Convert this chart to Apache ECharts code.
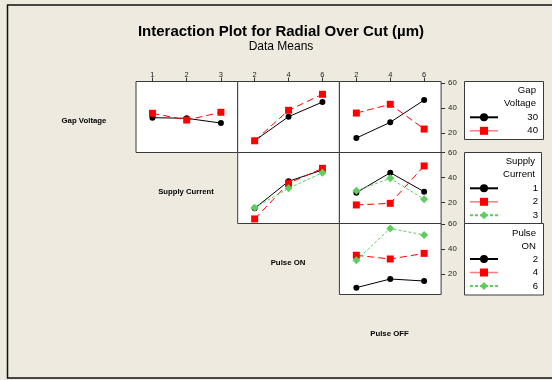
<!DOCTYPE html>
<html>
<head>
<meta charset="utf-8">
<script src="https://cdn.jsdelivr.net/npm/echarts@6/dist/echarts.min.js"></script>
<style>html,body{margin:0;padding:0;background:#EEEAE0;}#c{width:552px;height:380px;}</style>
</head>
<body>
<div id="c"></div>
<script>
// ---- data ----
const supplyCurrentLevels = [1, 2, 3];
const pulseOnLevels = [2, 4, 6];
const pulseOffLevels = [2, 4, 6];
const yTickValues = [20, 40, 60];

// Row 1: Gap Voltage traces
const gv30_vsSupplyCurrent = [32.5, 32.0, 28.2];
const gv40_vsSupplyCurrent = [36.0, 30.6, 36.8];
const gv30_vsPulseOn = [14.1, 33.3, 45.0];
const gv40_vsPulseOn = [14.0, 38.4, 51.2];
const gv30_vsPulseOff = [16.2, 28.8, 46.6];
const gv40_vsPulseOff = [36.2, 43.2, 23.4];

// Row 2: Supply Current traces
const sc1_vsPulseOn = [15.5, 37.1, 46.2];
const sc2_vsPulseOn = [7.0, 35.5, 47.5];
const sc3_vsPulseOn = [16.0, 31.5, 44.0];
const sc1_vsPulseOff = [28.0, 44.0, 28.8];
const sc2_vsPulseOff = [18.2, 19.5, 49.4];
const sc3_vsPulseOff = [29.6, 39.5, 22.7];

// Row 3: Pulse ON traces
const pon2_vsPulseOff = [9.1, 16.0, 14.4];
const pon4_vsPulseOff = [35.0, 32.0, 36.5];
const pon6_vsPulseOff = [31.0, 56.5, 51.2];

const gapVoltageLevels = ['30', '40'];
const supplyLevelsLabel = ['1', '2', '3'];
const pulseOnLabel = ['2', '4', '6'];

// ---- layout ----
const colLeft = [136, 237.7, 339.4];
const colW = 101.7;
const rowTop = [81.5, 152.5, 223.5];
const rowH = 71;
const rowY = [[4.64, 61.44], [3.36, 60.16], [3.6, 60.4]];
const FONT = 'Liberation Sans';

const panels = [
  {r: 0, c: 0, x: supplyCurrentLevels, xr: [0.52, 3.49]},
  {r: 0, c: 1, x: pulseOnLevels, xr: [1, 7]},
  {r: 0, c: 2, x: pulseOffLevels, xr: [1, 7]},
  {r: 1, c: 1, x: pulseOnLevels, xr: [1, 7]},
  {r: 1, c: 2, x: pulseOffLevels, xr: [1, 7]},
  {r: 2, c: 2, x: pulseOffLevels, xr: [1, 7]}
];

const grid = [], xAxis = [], yAxis = [];
panels.forEach((p, i) => {
  grid.push({left: colLeft[p.c], top: rowTop[p.r], width: colW, height: rowH,
    show: true, backgroundColor: '#ffffff', borderColor: '#3a3a3a', borderWidth: 1});
  const top = p.r === 0;
  xAxis.push({type: 'value', gridIndex: i, position: 'top', min: p.xr[0], max: p.xr[1],
    axisLine: {show: false}, splitLine: {show: false},
    axisTick: {show: top, inside: false, length: 4, lineStyle: {color: '#333'}, customValues: p.x},
    axisLabel: {show: top, customValues: p.x, margin: 3, fontSize: 7.5, fontFamily: FONT, color: '#222'}});
  const right = p.c === 2;
  yAxis.push({type: 'value', gridIndex: i, position: 'right', min: rowY[p.r][0], max: rowY[p.r][1],
    axisLine: {show: false}, splitLine: {show: false},
    axisTick: {show: right, inside: false, length: 4, lineStyle: {color: '#333'}, customValues: yTickValues},
    axisLabel: {show: right, customValues: yTickValues, margin: 7, fontSize: 7.8, fontFamily: FONT, color: '#222'}});
});

const styles = [
  {symbol: 'circle', symbolSize: 6, color: '#000000', lineStyle: {color: '#000000', width: 1, type: 'solid'}},
  {symbol: 'rect', symbolSize: 7, color: '#ff0000', lineStyle: {color: '#ff0000', width: 1, type: [7, 4]}},
  {symbol: 'diamond', symbolSize: 8, color: '#5fcc5f', lineStyle: {color: '#5fcc5f', width: 1, type: [3, 2]}}
];

function mk(name, xs, ys, idx, st) {
  const s = styles[st];
  return {type: 'line', name: name, xAxisIndex: idx, yAxisIndex: idx,
    data: xs.map((x, k) => [x, ys[k]]), symbol: s.symbol, symbolSize: s.symbolSize,
    itemStyle: {color: s.color}, lineStyle: s.lineStyle, animation: false, silent: true};
}

const series = [
  mk('GV 30', supplyCurrentLevels, gv30_vsSupplyCurrent, 0, 0),
  mk('GV 40', supplyCurrentLevels, gv40_vsSupplyCurrent, 0, 1),
  mk('GV 30', pulseOnLevels, gv30_vsPulseOn, 1, 0),
  mk('GV 40', pulseOnLevels, gv40_vsPulseOn, 1, 1),
  mk('GV 30', pulseOffLevels, gv30_vsPulseOff, 2, 0),
  mk('GV 40', pulseOffLevels, gv40_vsPulseOff, 2, 1),
  mk('SC 1', pulseOnLevels, sc1_vsPulseOn, 3, 0),
  mk('SC 2', pulseOnLevels, sc2_vsPulseOn, 3, 1),
  mk('SC 3', pulseOnLevels, sc3_vsPulseOn, 3, 2),
  mk('SC 1', pulseOffLevels, sc1_vsPulseOff, 4, 0),
  mk('SC 2', pulseOffLevels, sc2_vsPulseOff, 4, 1),
  mk('SC 3', pulseOffLevels, sc3_vsPulseOff, 4, 2),
  mk('PON 2', pulseOffLevels, pon2_vsPulseOff, 5, 0),
  mk('PON 4', pulseOffLevels, pon4_vsPulseOff, 5, 1),
  mk('PON 6', pulseOffLevels, pon6_vsPulseOff, 5, 2)
];

function legend(prefix, levels, top) {
  return {orient: 'vertical', left: 469, top: top, padding: 0, itemWidth: 28, itemHeight: 10, itemGap: 3.5,
    selectedMode: false,
    data: levels.map((l, k) => k === 1
      ? {name: prefix + ' ' + l, lineStyle: {type: 'solid', color: '#ff7a7a', width: 1.5}}
      : {name: prefix + ' ' + l}),
    formatter: n => '{r|' + n.split(' ')[1] + '}',
    textStyle: {rich: {r: {width: 35, align: 'right', fontSize: 9.6, fontFamily: FONT, color: '#000'}}}};
}

const boxStyle = {fill: '#ffffff', stroke: '#3a3a3a', lineWidth: 1};
function txt(x, y, t, size, bold, align) {
  return {type: 'text', x: x, y: y, z: 10, style: {text: t, align: align || 'center', verticalAlign: 'middle',
    fontSize: size, fontWeight: bold ? 'bold' : 'normal', fontFamily: FONT, fill: '#000', lineHeight: 12.6}};
}

const graphic = [
  {type: 'rect', shape: {x: 7.5, y: 5, width: 600, height: 373}, style: {fill: 'none', stroke: '#111', lineWidth: 1.5}, z: 0},
  {type: 'rect', shape: {x: 464.5, y: 81.5, width: 79, height: 58}, style: boxStyle, z: 0},
  {type: 'rect', shape: {x: 464.5, y: 152.5, width: 77, height: 71}, style: boxStyle, z: 0},
  {type: 'rect', shape: {x: 464.5, y: 223.5, width: 79, height: 71.5}, style: boxStyle, z: 0},
  txt(536, 97, 'Gap\nVoltage', 9.6, false, 'right'),
  txt(535, 168, 'Supply\nCurrent', 9.6, false, 'right'),
  txt(536, 239.7, 'Pulse\nON', 9.6, false, 'right'),
  txt(84, 121, 'Gap Voltage', 7.8, true),
  txt(186, 192.3, 'Supply Current', 7.7, true),
  txt(288, 263, 'Pulse ON', 7.8, true),
  txt(389.5, 334, 'Pulse OFF', 7.8, true)
];

const chart = echarts.init(document.getElementById('c'), null, {renderer: 'canvas'});
chart.setOption({
  backgroundColor: '#EEEAE0',
  animation: false,
  title: [
    {text: 'Interaction Plot for Radial Over Cut (µm)', left: 281, top: 24, textAlign: 'center',
      textStyle: {fontSize: 15, fontWeight: 'bold', fontFamily: FONT, color: '#000'}, padding: 0},
    {text: 'Data Means', left: 281, top: 41, textAlign: 'center',
      textStyle: {fontSize: 12, fontWeight: 'normal', fontFamily: FONT, color: '#000'}, padding: 0}
  ],
  grid: grid, xAxis: xAxis, yAxis: yAxis, series: series,
  legend: [legend('GV', gapVoltageLevels, 112.3), legend('SC', supplyLevelsLabel, 183.3), legend('PON', pulseOnLabel, 254)],
  graphic: graphic
});
</script>
</body>
</html>
